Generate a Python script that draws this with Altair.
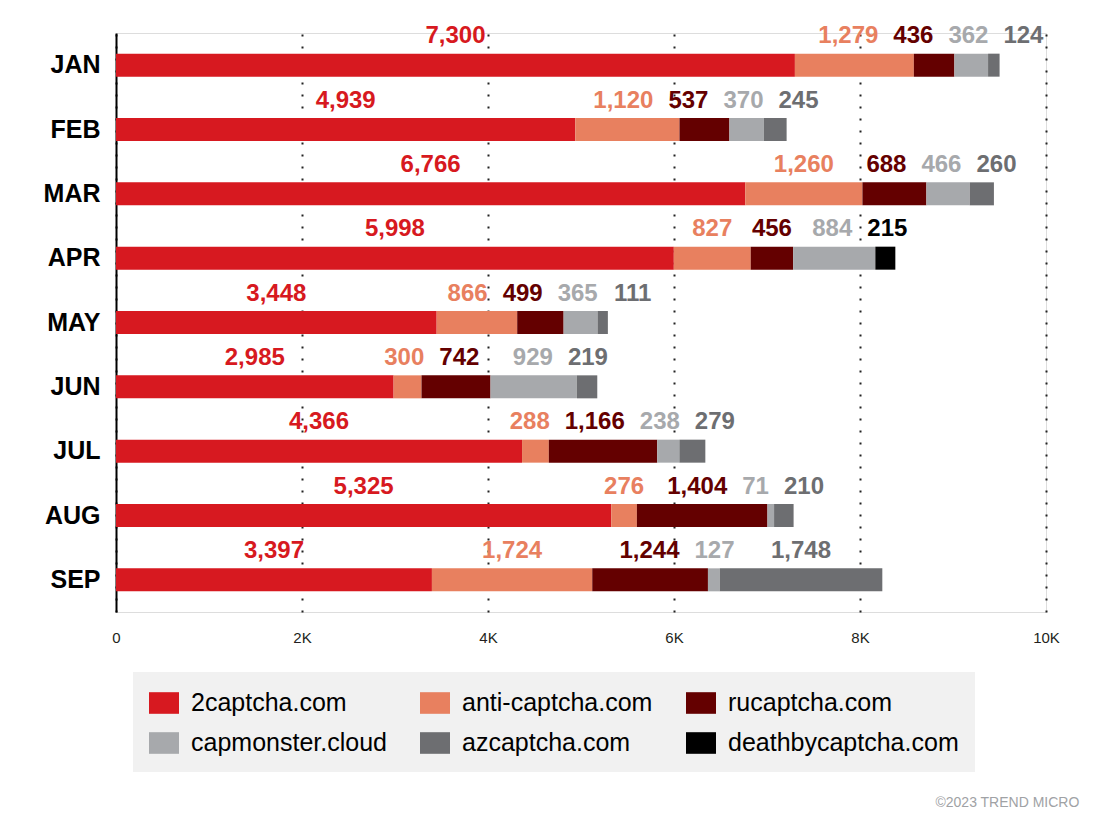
import altair as alt
import pandas as pd

months = ["JAN", "FEB", "MAR", "APR", "MAY", "JUN", "JUL", "AUG", "SEP"]
services = ["2captcha.com", "anti-captcha.com", "rucaptcha.com",
            "capmonster.cloud", "azcaptcha.com", "deathbycaptcha.com"]
v_2captcha = [7300, 4939, 6766, 5998, 3448, 2985, 4366, 5325, 3397]
v_anticaptcha = [1279, 1120, 1260, 827, 866, 300, 288, 276, 1724]
v_rucaptcha = [436, 537, 688, 456, 499, 742, 1166, 1404, 1244]
v_capmonster = [362, 370, 466, 884, 365, 929, 238, 71, 127]
v_azcaptcha = [124, 245, 260, 0, 111, 219, 279, 210, 1748]
v_deathbycaptcha = [0, 0, 0, 215, 0, 0, 0, 0, 0]
colors = ["#D71920", "#E8805F", "#640000", "#A7A9AC", "#6D6E71", "#000000"]
x_ticks = [0, 2000, 4000, 6000, 8000, 10000]

series = [v_2captcha, v_anticaptcha, v_rucaptcha, v_capmonster, v_azcaptcha, v_deathbycaptcha]

PLOT_W = 930
X_MAX = 10000
PX = PLOT_W / X_MAX
LABEL_SIZE = 24
GAP = 15
FONT = "Liberation Sans, Arial, sans-serif"


def text_w(s):
    return sum((0.278 if ch == "," else 0.556) for ch in s) * LABEL_SIZE


def spread(centers, widths):
    # isotonic (pool adjacent violators) spread so labels do not overlap
    n = len(centers)
    offs = [0.0]
    for i in range(1, n):
        offs.append(offs[-1] + (widths[i - 1] + widths[i]) / 2 + GAP)
    targets = [c - o for c, o in zip(centers, offs)]
    blocks = []  # [sum, count]
    for t in targets:
        blocks.append([t, 1])
        while len(blocks) > 1 and blocks[-2][0] / blocks[-2][1] > blocks[-1][0] / blocks[-1][1]:
            s, c = blocks.pop()
            blocks[-1][0] += s
            blocks[-1][1] += c
    ys = []
    for s, c in blocks:
        ys += [s / c] * c
    return [y + o for y, o in zip(ys, offs)]


rows = []
for mi, m in enumerate(months):
    cum = 0
    items = []
    for si, svc in enumerate(services):
        v = series[si][mi]
        if v > 0:
            lab = f"{v:,}"
            items.append(dict(month=m, service=svc, idx=si, value=v, label=lab,
                              center=(cum + v / 2) * PX, w=text_w(lab)))
        cum += v
    xs = spread([it["center"] for it in items], [it["w"] for it in items])
    for it, x in zip(items, xs):
        it["label_x"] = x / PX
        rows.append(it)

df = pd.DataFrame(rows)

xscale = alt.Scale(domain=[0, X_MAX], nice=False, zero=True)
yscale = alt.Scale(paddingInner=0, paddingOuter=0)
cscale = alt.Scale(domain=services, range=colors)

base = alt.Chart(df)

bars = base.mark_bar(size=23).encode(
    x=alt.X("value:Q", stack="zero", scale=xscale,
            axis=alt.Axis(values=x_ticks, title=None, domain=False, ticks=False,
                          labelExpr="datum.value == 0 ? '0' : (datum.value / 1000) + 'K'",
                          labelFontSize=15, labelColor="#231F20", labelPadding=18,
                          labelFont=FONT, labelFlush=False, grid=True, gridDash=[2, 10],
                          gridWidth=2, gridColor="#222222")),
    y=alt.Y("month:N", sort=months, scale=yscale,
            axis=alt.Axis(title=None, ticks=False, domain=True, domainColor="#000000",
                          domainWidth=2, labelFontSize=25, labelFontWeight="bold",
                          labelColor="#000000", labelPadding=16, labelFont=FONT)),
    color=alt.Color("service:N", scale=cscale,
                    legend=alt.Legend(title=None, orient="none", legendX=17, legendY=639,
                                      direction="horizontal", columns=3,
                                      fillColor="#F1F1F1", padding=16,
                                      symbolType="M-1,-0.72H1V0.72H-1Z", symbolSize=900,
                                      symbolStrokeWidth=0, symbolOpacity=1,
                                      labelFontSize=25, labelFont=FONT, labelColor="#000000",
                                      labelOffset=12, columnPadding=33, rowPadding=12,
                                      labelLimit=400)),
    order=alt.Order("idx:Q", sort="ascending"),
)

labels = base.mark_text(fontSize=LABEL_SIZE, fontWeight="bold", font=FONT,
                        align="center", baseline="middle", dy=-29).encode(
    x=alt.X("label_x:Q", stack=None, scale=xscale),
    y=alt.Y("month:N", sort=months, scale=yscale),
    text="label:N",
    color=alt.Color("service:N", scale=cscale, legend=None),
)

chart = alt.layer(bars, labels).properties(
    width=PLOT_W, height=579,
    padding={"left": 35, "top": 16, "right": 8, "bottom": 0},
    title=alt.TitleParams("©2023 TREND MICRO", orient="bottom", anchor="end",
                          fontSize=14, fontWeight="normal", color="#A0A2A5",
                          font=FONT, dx=20, offset=24),
).configure_view(stroke=None).configure(background="#FFFFFF")

chart.save("out.html", embed_options={"renderer": "svg", "actions": False})
